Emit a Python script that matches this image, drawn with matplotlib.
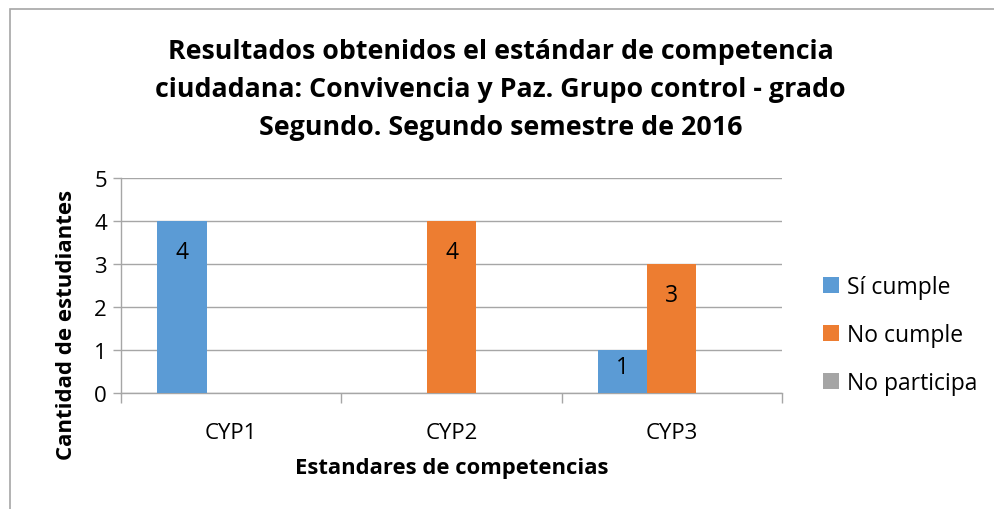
import matplotlib
matplotlib.use("Agg")
import matplotlib.pyplot as plt
import numpy as np
from matplotlib.patches import Rectangle

plt.rcParams['font.family'] = ['Open Sans', 'DejaVu Sans']

categories = ["CYP1", "CYP2", "CYP3"]
series_names = ["Sí cumple", "No cumple", "No participa"]
si_cumple = [4, 0, 1]
no_cumple = [0, 4, 3]
no_participa = [0, 0, 0]
colors = ["#5B9BD5", "#ED7D31", "#A5A5A5"]

title = ("Resultados obtenidos el estándar de competencia\n"
         "ciudadana: Convivencia y Paz. Grupo control - grado\n"
         "Segundo. Segundo semestre de 2016")

fig = plt.figure(figsize=(9.95, 5.1), dpi=100)
ax = fig.add_axes([0.1216, 0.2275, 0.6644, 0.4216])

x = np.arange(len(categories))
w = 0.223
all_series = [si_cumple, no_cumple, no_participa]
for i, (vals, name, c) in enumerate(zip(all_series, series_names, colors)):
    bars = ax.bar(x + (i - 1) * w, vals, width=w, color=c, label=name, zorder=3)
    for b, v in zip(bars, vals):
        if v > 0:
            ax.text(b.get_x() + b.get_width() / 2, v - min(0.72, 0.4 * v), str(v),
                    ha='center', va='center', fontsize=16.5, color='black', zorder=4)

ax.set_xlim(-0.5, 2.5)
ax.set_ylim(0, 5)
ax.set_yticks(range(0, 6))
ax.yaxis.grid(True, color='#A6A6A6', linewidth=1, zorder=0)
ax.set_xticks(x)
ax.set_xticklabels(categories, fontsize=16)
ax.set_xticks([-0.5, 0.5, 1.5, 2.5], minor=True)
ax.tick_params(axis='x', which='major', length=0, pad=21)
ax.tick_params(axis='x', which='minor', length=7, color='#A6A6A6', width=1)
ax.tick_params(axis='y', length=6, color='#A6A6A6', width=1, labelsize=16, pad=4)
for s in ['top', 'right']:
    ax.spines[s].set_visible(False)
for s in ['left', 'bottom']:
    ax.spines[s].set_color('#A6A6A6')
    ax.spines[s].set_linewidth(1)

ax.set_xlabel("Estandares de competencias", fontsize=15.8, fontweight='bold', labelpad=10)
ax.set_ylabel("Cantidad de estudiantes", fontsize=16, fontweight='bold')
ax.yaxis.set_label_coords(-0.067, 0.32)

fig.text(0.503, 0.8235, title, ha='center', va='center', fontsize=19.3,
         fontweight='bold', linespacing=1.62)

ax.legend(loc='center left', bbox_to_anchor=(1.03, 0.27), frameon=False,
          fontsize=16.5, handlelength=0.7, handleheight=0.7,
          handletextpad=0.35, labelspacing=1.05)

fig.patches.append(Rectangle((9.5 / 995, -0.1), 1.2, 1.1 - 9.5 / 510,
                             transform=fig.transFigure,
                             fill=False, edgecolor='#A6A6A6', linewidth=1.2))

fig.savefig("out.png", dpi=100)
